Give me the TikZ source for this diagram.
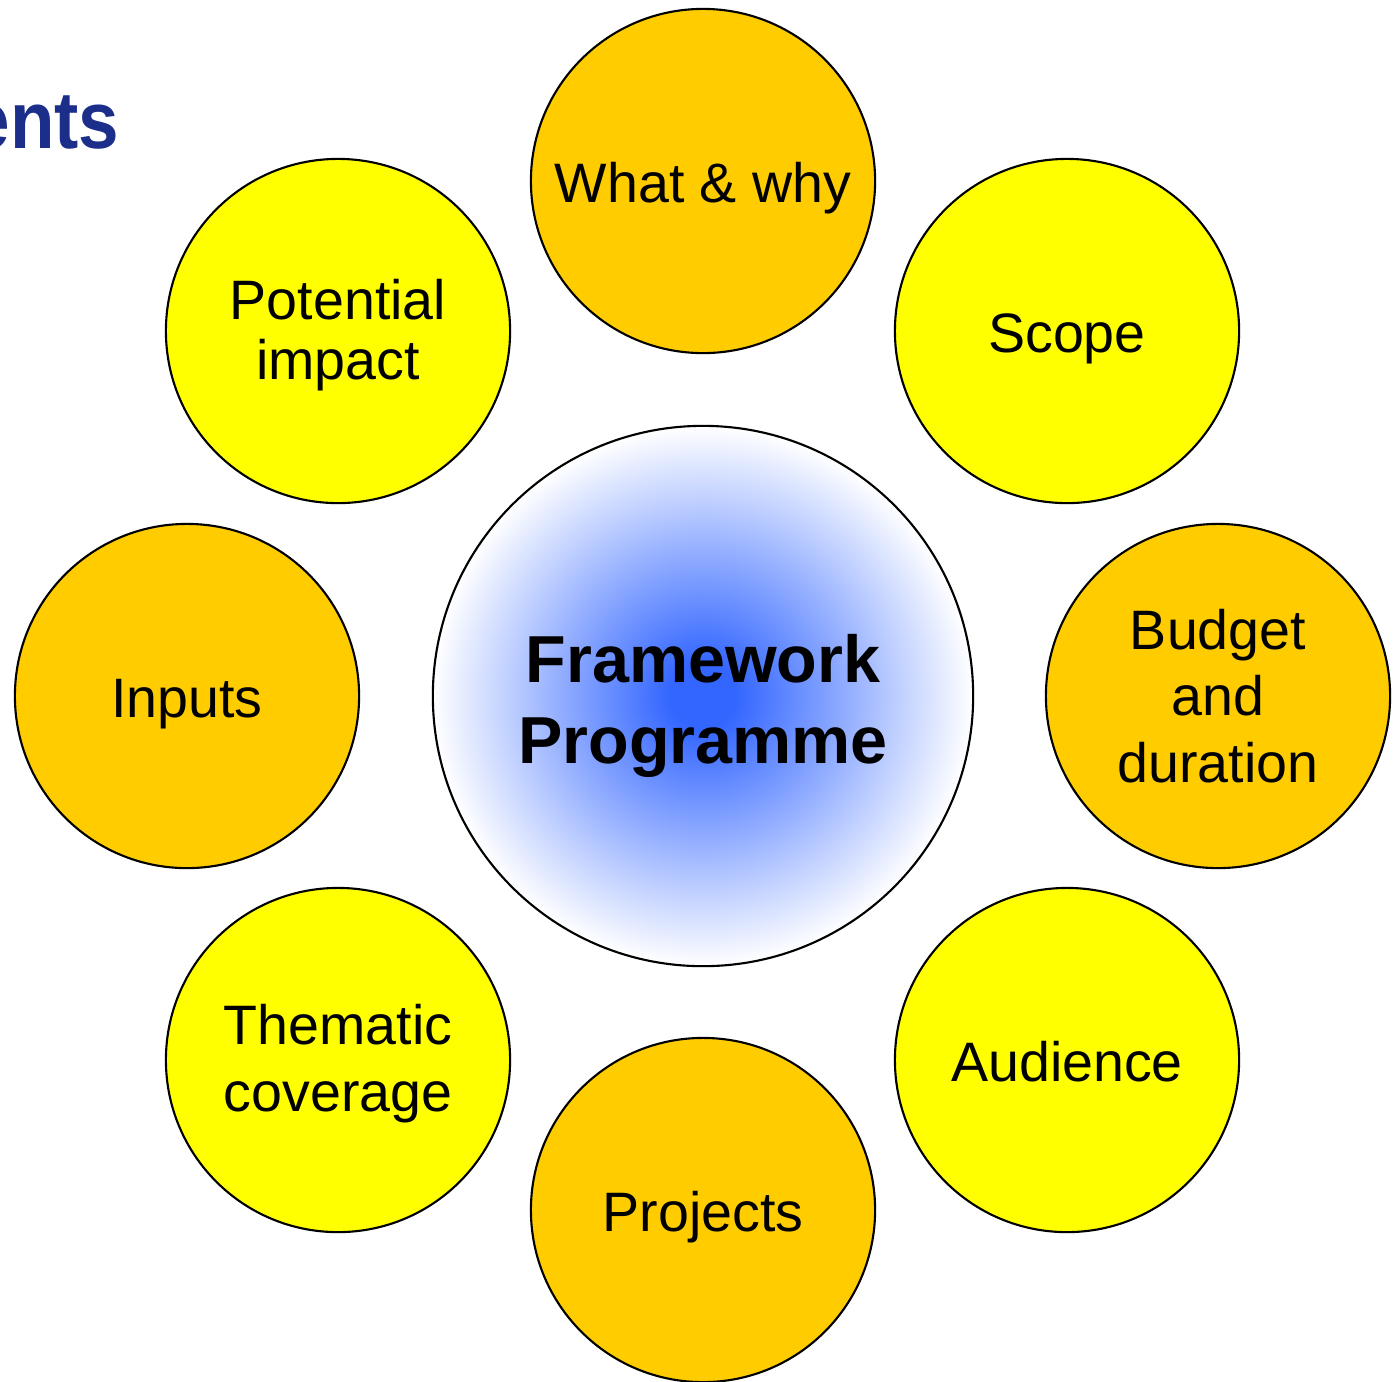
\documentclass[tikz,border=0pt]{standalone}
\usepackage{fontspec}
\setmainfont{Liberation Sans}
\definecolor{fwblue}{RGB}{51,102,255}
\definecolor{titleblue}{RGB}{26,46,138}
\definecolor{bubbleorange}{RGB}{255,204,0}
\definecolor{bubbleyellow}{RGB}{255,255,0}
\pgfdeclareradialshading{fwglow}{\pgfpoint{0bp}{0bp}}{%
  color(0bp)=(fwblue); color(3bp)=(fwblue); color(25bp)=(white); color(50bp)=(white)}

\begin{document}
\begin{tikzpicture}[
    x=0.01cm, y=-0.01cm,
    bubble/.style={circle, draw=black, line width=0.6pt, minimum size=3.44cm,
      inner sep=0pt, align=center, font=\fontsize{15.8}{19}\selectfont},
    orange/.style={bubble, fill=bubbleorange},
    yellow/.style={bubble, fill=bubbleyellow},
    lines/.style={text height=#1, text depth=0pt},
    oneline/.style={lines=12pt},
    hub/.style={circle, draw=black, line width=0.6pt, minimum size=5.40cm,
      inner sep=0pt, align=center, shading=fwglow, lines=38.1pt,
      font=\fontsize{18.9}{23}\selectfont\bfseries}
  ]
    \useasboundingbox (0,0) rectangle (1398,1381);

    % cut-off slide title
    \node[anchor=base east, text=titleblue, inner sep=0pt, xscale=0.9, transform shape,
      font=\fontsize{23}{27}\selectfont\bfseries] (title) at (120,148) {ents};

    % centre
    \node[hub] (fp) at (703,696) {Framework\\Programme};

    % ring of elements
    \node[orange, oneline] (what) at (703,181) {What \& why};
    \node[yellow, oneline] (scope) at (1067,331) {Scope};
    \node[orange] (budget) at (1218,696) {Budget\\and\\duration};
    \node[yellow, oneline] (audience) at (1067,1060) {Audience};
    \node[orange, oneline] (projects) at (703,1210) {Projects};
    \node[yellow, lines=29.3pt] (thematic) at (338,1060) {Thematic\\coverage};
    \node[orange, oneline] (inputs) at (187,696) {Inputs};
    \node[yellow, lines=27.6pt, font=\fontsize{15.8}{17}\selectfont] (impact) at (338,331) {Potential\\impact};
  \end{tikzpicture}
\end{document}
